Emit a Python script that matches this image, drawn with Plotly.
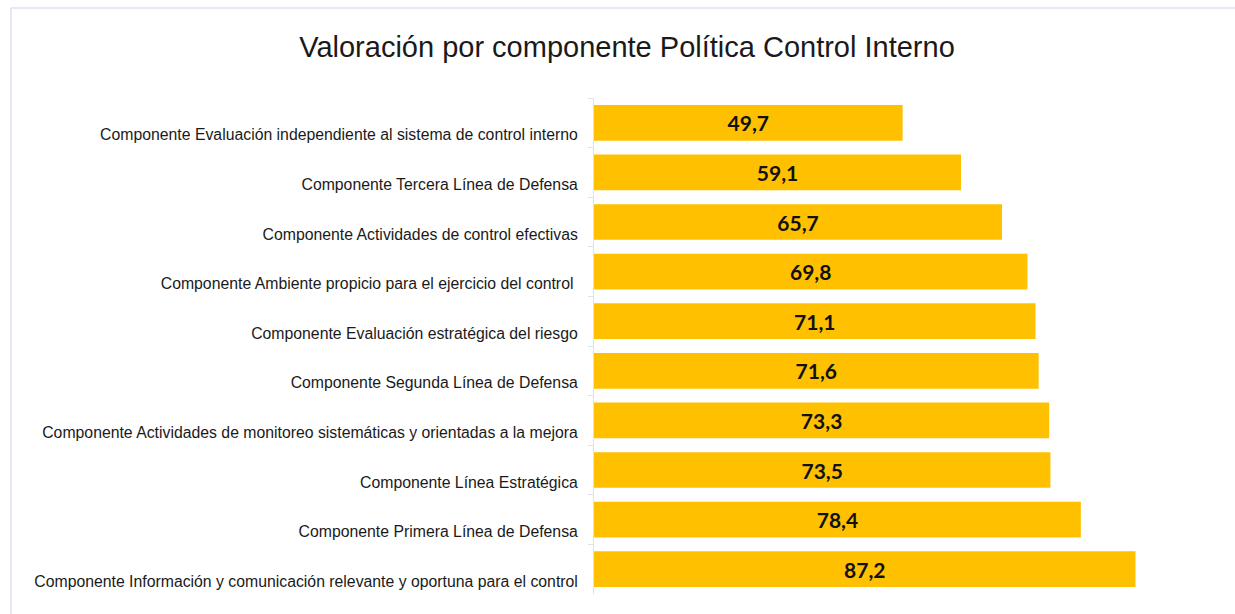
import plotly.graph_objects as go

categories = [
    "Componente Evaluación independiente al sistema de control interno",
    "Componente Tercera Línea de Defensa",
    "Componente Actividades de control efectivas",
    "Componente Ambiente propicio para el ejercicio del control ",
    "Componente Evaluación estratégica del riesgo",
    "Componente Segunda Línea de Defensa",
    "Componente Actividades de monitoreo sistemáticas y orientadas a la mejora",
    "Componente Línea Estratégica",
    "Componente Primera Línea de Defensa",
    "Componente Información y comunicación relevante y oportuna para el control",
]
values = [49.7, 59.1, 65.7, 69.8, 71.1, 71.6, 73.3, 73.5, 78.4, 87.2]

W, H = 1235, 614
ml, mr, mt, mb = 594, 20, 98, 20
pw, ph = W - ml - mr, H - mt - mb

fig = go.Figure(go.Bar(
    y=categories, x=values, orientation="h",
    marker=dict(color="#FFC000", line=dict(width=0)),
    texttemplate="%{x:.1f}", textposition="inside", insidetextanchor="middle",
    textfont=dict(family="Lato, Liberation Sans, Arial", size=21, color="#111111", weight="bold"),
    textangle=0, cliponaxis=False,
))

def px_x(p):
    return (p - ml) / pw

def px_y(p):
    return (H - mb - p) / ph

border = "#DAE3F3"
fig.update_layout(
    width=W, height=H,
    margin=dict(l=ml, r=mr, t=mt, b=mb),
    paper_bgcolor="white", plot_bgcolor="white",
    separators=",.",
    showlegend=False,
    bargap=0.28,
    title=dict(text="Valoración por componente Política Control Interno",
               x=627 / W, xanchor="center", y=1 - 47 / H, yanchor="middle",
               font=dict(family="Liberation Sans, Arial", size=29, color="#1a1a1a")),
    xaxis=dict(range=[0, 100], visible=False, fixedrange=True),
    yaxis=dict(autorange="reversed", type="category", showline=True, linecolor=border,
               linewidth=1, ticks="outside", tickson="boundaries", ticklen=5,
               tickcolor=border, showgrid=False, ticklabelstandoff=12,
               ticklabelshift=-12,
               tickfont=dict(family="Liberation Sans, Arial", size=15.8, color="#1a1a1a")),
    shapes=[
        dict(type="line", xref="paper", yref="paper", x0=px_x(11), x1=px_x(W + 10),
             y0=px_y(8), y1=px_y(8), line=dict(color=border, width=1.5)),
        dict(type="line", xref="paper", yref="paper", x0=px_x(11), x1=px_x(11),
             y0=px_y(8), y1=px_y(H + 10), line=dict(color=border, width=1.5)),
    ],
)

fig.write_html("out.html")
